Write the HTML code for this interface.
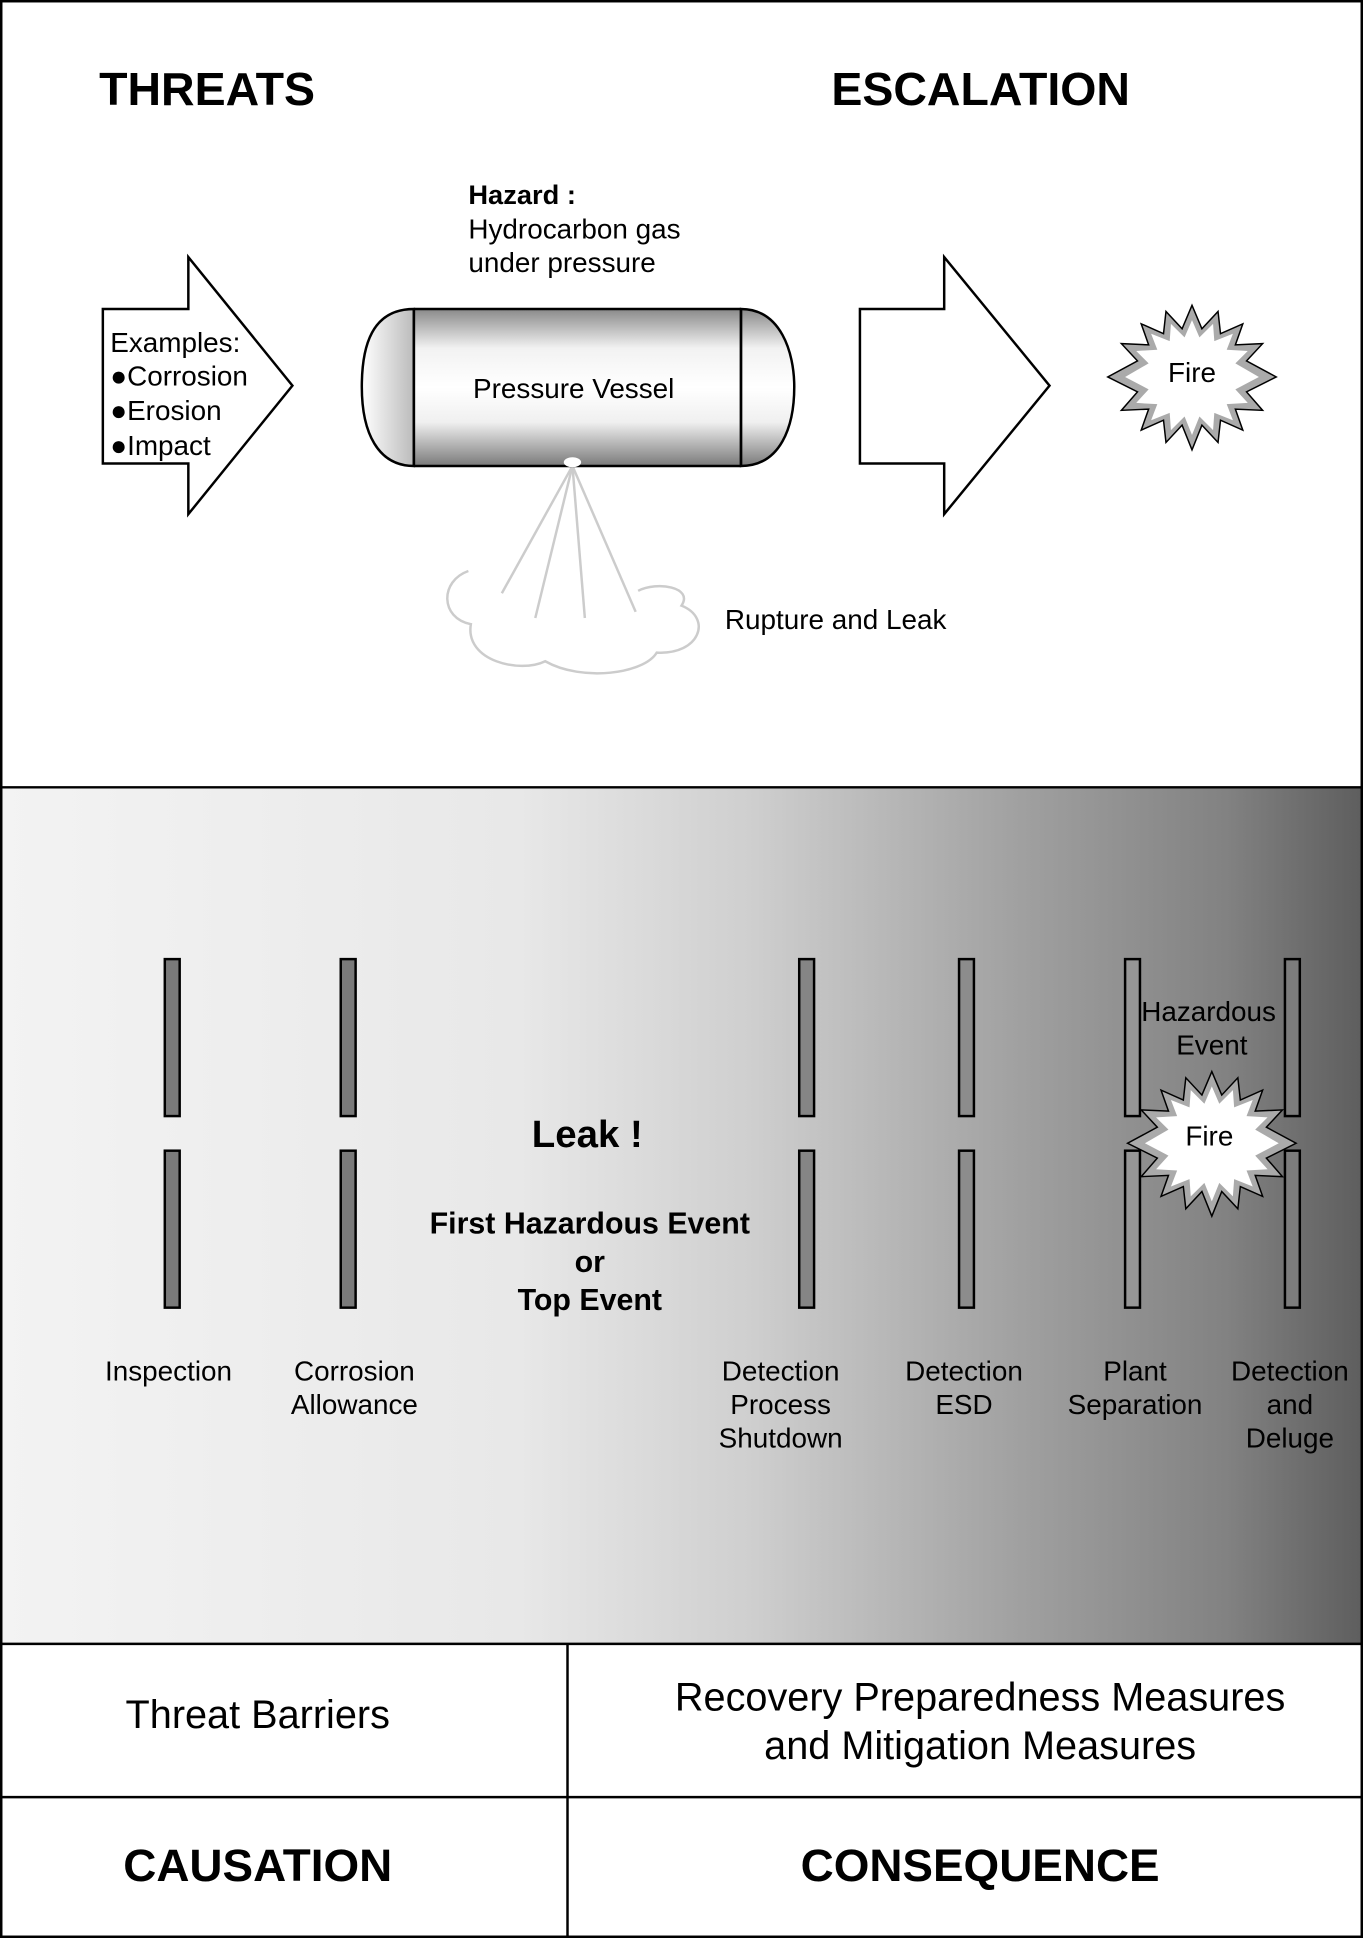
<!DOCTYPE html>
<html><head><meta charset="utf-8"><style>
html,body{margin:0;padding:0;background:#fff}
svg{display:block}
text{font-family:"Liberation Sans",Arial,sans-serif;fill:#000}
</style></head><body>
<svg width="1363" height="1938" viewBox="0 0 1100 1568" preserveAspectRatio="none" xmlns="http://www.w3.org/2000/svg">
<defs>
<linearGradient id="bg" x1="0" y1="0" x2="1" y2="0">
<stop offset="0" stop-color="#f3f3f3"/>
<stop offset="0.38" stop-color="#e8e8e8"/>
<stop offset="0.55" stop-color="#cfcfcf"/>
<stop offset="0.75" stop-color="#a0a0a0"/>
<stop offset="0.9" stop-color="#828282"/>
<stop offset="1" stop-color="#5e5e5e"/>
</linearGradient>
<linearGradient id="ves" x1="0" y1="0" x2="0" y2="1">
<stop offset="0" stop-color="#8a8a8a"/>
<stop offset="0.25" stop-color="#f2f2f2"/>
<stop offset="0.5" stop-color="#ffffff"/>
<stop offset="0.72" stop-color="#f0f0f0"/>
<stop offset="1" stop-color="#7a7a7a"/>
</linearGradient>
<linearGradient id="cap" x1="0" y1="0" x2="1" y2="0">
<stop offset="0" stop-color="#ffffff"/>
<stop offset="1" stop-color="#bbbbbb"/>
</linearGradient>
</defs>
<rect x="0" y="0" width="1100" height="1568" fill="#fff"/>
<rect x="1" y="637" width="1098" height="693" fill="url(#bg)"/>
<rect x="1" y="1" width="1098" height="1566" fill="none" stroke="#000" stroke-width="2"/>
<line x1="0" y1="637" x2="1100" y2="637" stroke="#000" stroke-width="2"/>
<line x1="0" y1="1330" x2="1100" y2="1330" stroke="#000" stroke-width="2"/>
<line x1="0" y1="1454" x2="1100" y2="1454" stroke="#000" stroke-width="2"/>
<line x1="458" y1="1330" x2="458" y2="1568" stroke="#000" stroke-width="2"/>

<text x="80" y="85" font-size="37.5" font-weight="bold">THREATS</text>
<text x="671" y="85" font-size="37.5" font-weight="bold">ESCALATION</text>

<text x="378" y="165" font-size="22" font-weight="bold">Hazard :</text>
<text x="378" y="193" font-size="22.5">Hydrocarbon gas</text>
<text x="378" y="220" font-size="22.5">under pressure</text>

<polygon points="83,250 152,250 152,208 236,312 152,416 152,375 83,375" fill="#fff" stroke="#000" stroke-width="2"/>
<text x="89" y="285" font-size="22.5">Examples:</text>
<text x="89" y="312" font-size="22.5">●Corrosion</text>
<text x="89" y="340" font-size="22.5">●Erosion</text>
<text x="89" y="368" font-size="22.5">●Impact</text>

<polygon points="694,250 762,250 762,208 847,312 762,416 762,375 694,375" fill="#fff" stroke="#000" stroke-width="2"/>

<g stroke="#ccc" stroke-width="2" fill="none">
<line x1="462" y1="377" x2="405" y2="480"/>
<line x1="462" y1="377" x2="432" y2="500"/>
<line x1="462" y1="377" x2="472" y2="500"/>
<line x1="462" y1="377" x2="513" y2="495"/>
<path d="M378,462 C355,470 355,500 380,505 C375,535 420,545 440,535 C470,552 520,545 530,528 C565,530 575,500 550,490 C560,475 530,470 515,478"/>
</g>

<path d="M334,250 L598,250 L598,377 L334,377 Z" fill="url(#ves)"/>
<path d="M334,250 C300,250 292,280 292,313 C292,350 305,377 334,377 Z" fill="url(#cap)" stroke="#000" stroke-width="2"/>
<path d="M598,250 C630,250 641,285 641,313 C641,345 630,377 598,377 Z" fill="url(#ves)" stroke="#000" stroke-width="2"/>
<line x1="334" y1="250" x2="598" y2="250" stroke="#000" stroke-width="2"/>
<line x1="334" y1="377" x2="598" y2="377" stroke="#000" stroke-width="2"/>
<line x1="334" y1="250" x2="334" y2="377" stroke="#000" stroke-width="2"/>
<line x1="598" y1="250" x2="598" y2="377" stroke="#000" stroke-width="2"/>
<ellipse cx="462" cy="374" rx="7" ry="4" fill="#fff"/>
<text x="463" y="322" font-size="22.5" text-anchor="middle">Pressure Vessel</text>
<text x="585" y="509" font-size="22.5">Rupture and Leak</text>

<g id="f1">
<polygon points="962,247 970,266 983,252 985,270 1003,262 997,279 1019,278 1006,292 1030,305 1006,317 1019,332 997,331 1003,348 985,340 983,358 970,344 962,364 954,344 941,358 939,340 921,348 927,331 905,332 918,317 894,305 918,292 905,278 927,279 921,262 939,270 941,252 954,266" fill="#aaa" stroke="#000" stroke-width="1.2"/>
<polygon points="962,259 968,273 979,262 980,276 995,270 990,283 1007,284 997,294 1016,305 997,315 1007,326 990,327 995,340 980,334 979,348 968,337 962,352 956,337 945,348 944,334 929,340 934,327 917,326 927,315 908,305 927,294 917,284 934,283 929,270 944,276 945,262 956,273" fill="#fff"/>
</g>
<text x="962" y="309" font-size="22.5" text-anchor="middle">Fire</text>

<g stroke="#000" stroke-width="2">
<rect x="133" y="776" width="12" height="127" fill="#7a7a7a"/>
<rect x="133" y="931" width="12" height="127" fill="#7a7a7a"/>
<rect x="275" y="776" width="12" height="127" fill="#7a7a7a"/>
<rect x="275" y="931" width="12" height="127" fill="#7a7a7a"/>
<rect x="645" y="776" width="12" height="127" fill="#858585"/>
<rect x="645" y="931" width="12" height="127" fill="#858585"/>
<rect x="774" y="776" width="12" height="127" fill="#8c8c8c"/>
<rect x="774" y="931" width="12" height="127" fill="#8c8c8c"/>
<rect x="908" y="776" width="12" height="127" fill="#969696"/>
<rect x="908" y="931" width="12" height="127" fill="#969696"/>
<rect x="1037" y="776" width="12" height="127" fill="#7c7c7c"/>
<rect x="1037" y="931" width="12" height="127" fill="#7c7c7c"/>
</g>

<text x="921" y="826" font-size="22.5">Hazardous</text>
<text x="978" y="853" font-size="22.5" text-anchor="middle">Event</text>
<use href="#f1" transform="translate(16,620)"/>
<text x="976" y="927" font-size="22.5" text-anchor="middle">Fire</text>

<text x="474" y="928" font-size="31" font-weight="bold" text-anchor="middle">Leak !</text>
<text x="476" y="998" font-size="24.5" font-weight="bold" text-anchor="middle">First Hazardous Event</text>
<text x="476" y="1029" font-size="24.5" font-weight="bold" text-anchor="middle">or</text>
<text x="476" y="1060" font-size="24.5" font-weight="bold" text-anchor="middle">Top Event</text>

<g font-size="22.5" text-anchor="middle">
<text x="136" y="1117">Inspection</text>
<text x="286" y="1117">Corrosion</text>
<text x="286" y="1144">Allowance</text>
<text x="630" y="1117">Detection</text>
<text x="630" y="1144">Process</text>
<text x="630" y="1171">Shutdown</text>
<text x="778" y="1117">Detection</text>
<text x="778" y="1144">ESD</text>
<text x="916" y="1117">Plant</text>
<text x="916" y="1144">Separation</text>
<text x="1041" y="1117">Detection</text>
<text x="1041" y="1144">and</text>
<text x="1041" y="1171">Deluge</text>
</g>

<text x="208" y="1398" font-size="32" text-anchor="middle">Threat Barriers</text>
<text x="791" y="1384" font-size="32" text-anchor="middle">Recovery Preparedness Measures</text>
<text x="791" y="1423" font-size="32" text-anchor="middle">and Mitigation Measures</text>
<text x="208" y="1522" font-size="37" font-weight="bold" text-anchor="middle">CAUSATION</text>
<text x="791" y="1522" font-size="37" font-weight="bold" text-anchor="middle">CONSEQUENCE</text>
</svg>
</body></html>
